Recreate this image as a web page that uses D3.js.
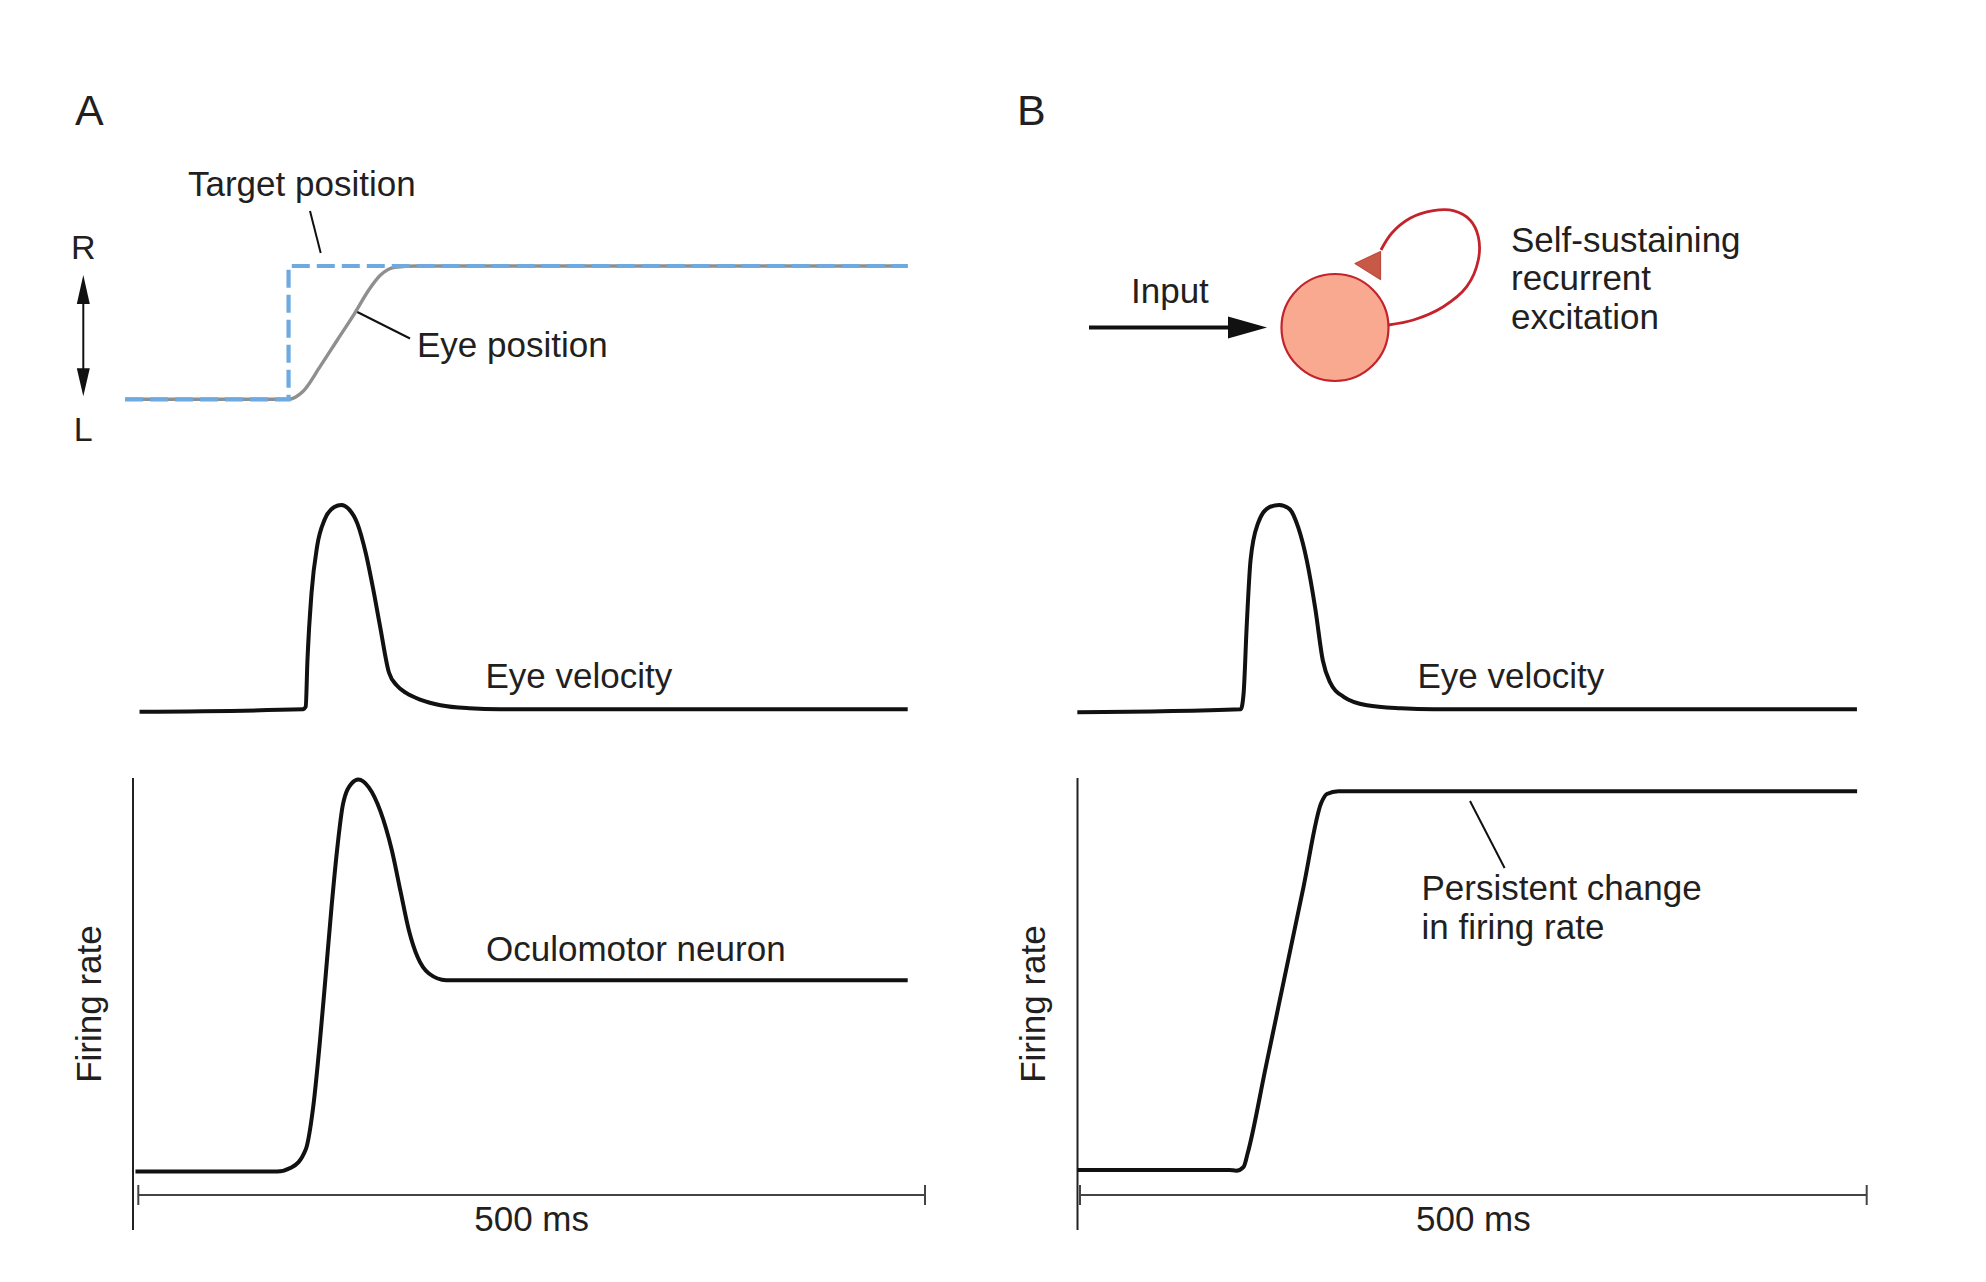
<!DOCTYPE html>
<html>
<head>
<meta charset="utf-8">
<script src="https://cdn.jsdelivr.net/npm/d3@7"></script>
<style>
  html, body { margin: 0; padding: 0; background: #ffffff; }
  text { font-family: "Liberation Sans", Arial, Helvetica, sans-serif; fill: #231f20; }
</style>
</head>
<body>
<svg id="chart" width="1986" height="1282"></svg>
<script>
// ---------------- DATA (time in ms, values normalised) ----------------
// Panel A, top: position (0 = L, 1 = R)
const targetPosition = [[-8.4, 0], [95.5, 0], [95.5, 1], [489, 1]];
const eyePosition = [[-8.4, 0], [95.5, 0], [104.6, 0.058], [115.5, 0.245], [126.5, 0.445],
  [137.5, 0.645], [146.5, 0.82], [153.8, 0.93], [162.9, 0.99], [177.5, 1.0], [489, 1.0]];

// Eye velocity (0 = baseline, 1 = peak)
const eyeVelocityA = [[0.8, -0.012], [104.6, 0], [106.4, 0.013], [107.5, 0.24], [110.1, 0.57],
  [113.7, 0.80], [118.5, 0.93], [124.6, 0.99], [129.0, 1.0], [133.8, 0.98], [139.2, 0.91],
  [144.7, 0.76], [149.0, 0.60], [153.8, 0.40], [159.3, 0.18], [164.5, 0.115], [170.2, 0.08],
  [180.0, 0.045], [192.1, 0.02], [210.3, 0.005], [230, 0], [489, 0]];
const eyeVelocityB = [[-1.7, -0.015], [102.2, 0], [104.0, 0.08], [105.9, 0.40], [108.4, 0.73],
  [113.1, 0.91], [120.4, 0.99], [126.6, 1.0], [133.2, 0.98], [138.7, 0.89], [144.1, 0.73],
  [149.6, 0.49], [154.3, 0.24], [158.7, 0.135], [167.8, 0.06], [182.4, 0.02], [204, 0.005],
  [225, 0], [493.8, 0]];

// Firing rate (0 = baseline, 1 = peak of oculomotor neuron)
const firingRateA = [[-1.8, 0], [88.2, 0], [97.3, 0.01], [106.4, 0.056], [111.2, 0.166],
  [115.5, 0.335], [119.2, 0.505], [122.8, 0.674], [126.5, 0.826], [130.1, 0.937], [135.6, 0.99],
  [139.9, 1.0], [146.5, 0.98], [153.8, 0.92], [161.1, 0.82], [166.6, 0.716], [172.0, 0.615],
  [177.5, 0.547], [184.7, 0.505], [195.7, 0.488], [489, 0.488]];
const firingRateB = [[-1.7, 0.004], [94.9, 0.004], [99.3, 0.002], [104.0, 0.012], [106.6, 0.047],
  [118.0, 0.265], [130.0, 0.495], [142.0, 0.725], [153.3, 0.94], [156.9, 0.963], [164.2, 0.97],
  [493.9, 0.97]];

// Scale bar and labels
const scaleBarMs = [0, 500];
const scaleBarLabel = "500 ms";
const panelLabels = ["A", "B"];
const positionLabels = ["R", "L"];
const firingAxisLabel = "Firing rate";
const velocityLabel = "Eye velocity";
const recurrentLabel = ["Self-sustaining", "recurrent", "excitation"];
const persistentLabel = ["Persistent change", "in firing rate"];

// ---------------- SCALES ----------------
const svg = d3.select("#chart");
const xA = d3.scaleLinear().domain([0, 500]).range([138.3, 925]);
const xB = d3.scaleLinear().domain([0, 500]).range([1080, 1866.7]);
const yPos = d3.scaleLinear().domain([0, 1]).range([399.3, 266]);
const yVel = d3.scaleLinear().domain([0, 1]).range([709.3, 505]);
const yFire = d3.scaleLinear().domain([0, 1]).range([1171.5, 779.5]);

const smooth = (x, y) => d3.line().x(d => x(d[0])).y(d => y(d[1])).curve(d3.curveMonotoneX);
const straight = (x, y) => d3.line().x(d => x(d[0])).y(d => y(d[1]));

const ink = "#111111";
const fontSize = 35;

// ---------------- PANEL LABELS ----------------
svg.append("text").attr("x", 75).attr("y", 125).attr("font-size", 43).text(panelLabels[0]);
svg.append("text").attr("x", 1017).attr("y", 125).attr("font-size", 43).text(panelLabels[1]);

// ---------------- PANEL A TOP: position ----------------
svg.append("path").datum(eyePosition)
  .attr("d", smooth(xA, yPos)).attr("fill", "none")
  .attr("stroke", "#8f8f8f").attr("stroke-width", 3.4);
svg.append("path").datum(targetPosition)
  .attr("d", straight(xA, yPos)).attr("fill", "none")
  .attr("stroke", "#6eaae0").attr("stroke-width", 4.2)
  .attr("stroke-dasharray", "18,7");

// R / L double arrow
const arrowX = 83.3;
svg.append("line").attr("x1", arrowX).attr("x2", arrowX)
  .attr("y1", yPos(1) + 30).attr("y2", yPos(0) - 25)
  .attr("stroke", ink).attr("stroke-width", 2);
svg.append("path")
  .attr("d", `M${arrowX},${yPos(1) + 9} L${arrowX + 6.5},${yPos(1) + 38} L${arrowX - 6.5},${yPos(1) + 38} Z`)
  .attr("fill", ink);
svg.append("path")
  .attr("d", `M${arrowX},${yPos(0) - 3} L${arrowX + 6.5},${yPos(0) - 31} L${arrowX - 6.5},${yPos(0) - 31} Z`)
  .attr("fill", ink);
svg.append("text").attr("x", arrowX).attr("y", 259).attr("text-anchor", "middle")
  .attr("font-size", 34).text(positionLabels[0]);
svg.append("text").attr("x", arrowX).attr("y", 441).attr("text-anchor", "middle")
  .attr("font-size", 34).text(positionLabels[1]);

// Annotations
svg.append("text").attr("x", 188).attr("y", 196).attr("font-size", fontSize).text("Target position");
svg.append("line").attr("x1", 310).attr("y1", 211).attr("x2", 320.7).attr("y2", 253)
  .attr("stroke", ink).attr("stroke-width", 2);
svg.append("text").attr("x", 417).attr("y", 357).attr("font-size", fontSize).text("Eye position");
svg.append("line").attr("x1", 357.3).attr("y1", 312).attr("x2", 410).attr("y2", 338.5)
  .attr("stroke", ink).attr("stroke-width", 2);

// ---------------- PANEL B TOP: recurrent diagram ----------------
const cell = { cx: 1335, cy: 327.5, r: 53.5 };
// input arrow
svg.append("line").attr("x1", 1089).attr("x2", 1232).attr("y1", cell.cy).attr("y2", cell.cy)
  .attr("stroke", ink).attr("stroke-width", 4);
svg.append("path").attr("d", `M1228,${cell.cy - 11} L1267,${cell.cy} L1228,${cell.cy + 11} Z`).attr("fill", ink);
svg.append("text").attr("x", 1131).attr("y", 303).attr("font-size", fontSize).text("Input");
// loop
const loopPts = [[1388.3, 325], [1413.3, 320], [1443.3, 306.7], [1466.7, 286.7], [1478.3, 260],
  [1478.3, 236.7], [1470, 220], [1453.3, 210.7], [1433.3, 210.7], [1410, 218.3], [1391.7, 233.3], [1381, 250]];
svg.append("path").datum(loopPts)
  .attr("d", d3.line().curve(d3.curveCatmullRom.alpha(0.5)))
  .attr("fill", "none").attr("stroke", "#c4232b").attr("stroke-width", 2.8);
svg.append("path").attr("d", "M1355,263.5 L1380.5,251.5 L1380.5,279.5 Z")
  .attr("fill", "#c65a47").attr("stroke", "#c04a3d").attr("stroke-width", 1.2).attr("stroke-linejoin", "round");
svg.append("circle").attr("cx", cell.cx).attr("cy", cell.cy).attr("r", cell.r)
  .attr("fill", "#f8a98f").attr("stroke", "#c4232b").attr("stroke-width", 2.2);
recurrentLabel.forEach((t, i) => {
  svg.append("text").attr("x", 1511).attr("y", 252 + i * 38.4).attr("font-size", fontSize).text(t);
});

// ---------------- EYE VELOCITY ----------------
svg.append("path").datum(eyeVelocityA).attr("d", smooth(xA, yVel))
  .attr("fill", "none").attr("stroke", ink).attr("stroke-width", 4).attr("stroke-linejoin", "round");
svg.append("path").datum(eyeVelocityB).attr("d", smooth(xB, yVel))
  .attr("fill", "none").attr("stroke", ink).attr("stroke-width", 4).attr("stroke-linejoin", "round");
svg.append("text").attr("x", 485.5).attr("y", 688).attr("font-size", fontSize).text(velocityLabel);
svg.append("text").attr("x", 1417.5).attr("y", 688).attr("font-size", fontSize).text(velocityLabel);

// ---------------- FIRING RATE ----------------
function firingPanel(x, data, axisX, labelX) {
  // vertical axis line
  svg.append("line").attr("x1", axisX).attr("x2", axisX).attr("y1", 778).attr("y2", 1230)
    .attr("stroke", "#222").attr("stroke-width", 2);
  // curve
  svg.append("path").datum(data).attr("d", smooth(x, yFire))
    .attr("fill", "none").attr("stroke", ink).attr("stroke-width", 4).attr("stroke-linejoin", "round");
  // scale bar
  const barY = 1195;
  svg.append("line").attr("x1", x(scaleBarMs[0])).attr("x2", x(scaleBarMs[1]))
    .attr("y1", barY).attr("y2", barY).attr("stroke", "#444").attr("stroke-width", 2);
  scaleBarMs.forEach(v => {
    svg.append("line").attr("x1", x(v)).attr("x2", x(v)).attr("y1", barY - 10).attr("y2", barY + 10)
      .attr("stroke", "#444").attr("stroke-width", 2);
  });
  svg.append("text").attr("x", (x(scaleBarMs[0]) + x(scaleBarMs[1])) / 2).attr("y", 1231)
    .attr("text-anchor", "middle").attr("font-size", fontSize).text(scaleBarLabel);
  // y label
  svg.append("text").attr("transform", `translate(${labelX},1004) rotate(-90)`)
    .attr("text-anchor", "middle").attr("font-size", fontSize).text(firingAxisLabel);
}
firingPanel(xA, firingRateA, 133, 101);
firingPanel(xB, firingRateB, 1077.5, 1045);

svg.append("text").attr("x", 486).attr("y", 961).attr("font-size", fontSize).text("Oculomotor neuron");
persistentLabel.forEach((t, i) => {
  svg.append("text").attr("x", 1421.5).attr("y", 900 + i * 38.5).attr("font-size", fontSize).text(t);
});
svg.append("line").attr("x1", 1470).attr("y1", 801).attr("x2", 1504.6).attr("y2", 868)
  .attr("stroke", ink).attr("stroke-width", 2);
</script>
</body>
</html>
